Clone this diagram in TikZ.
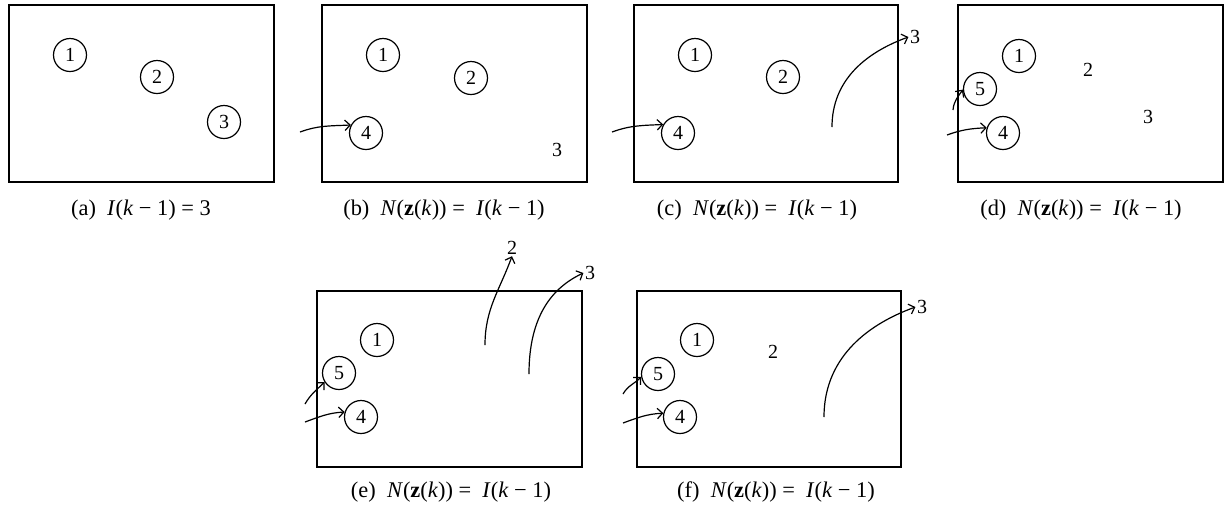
\documentclass[tikz,border=0pt]{standalone}
\usepackage{fontspec}
\setmainfont{Liberation Serif}
\usetikzlibrary{arrows.meta}
\begin{document}
\begin{tikzpicture}[x=0.5pt,y=-0.5pt,
  frame/.style={draw, line width=0.6pt},
  obj/.style={circle, draw, line width=0.6pt, minimum size=16.5pt, inner sep=0pt, font=\fontsize{10}{12}\selectfont},
  lbl/.style={inner sep=0.6pt, font=\fontsize{10}{12}\selectfont},
  mv/.style={line width=0.6pt, -{Straight Barb[length=2.6pt,width=5.2pt]}},
  captext/.style={inner sep=0pt, font=\fontsize{11.2}{13}\selectfont}]
\useasboundingbox (0,0) rectangle (1228,510);
\newcommand{\capN}[1]{(#1)\enspace\textit{N}(\textbf{z}(\textit{k})) =\enspace\textit{I}(\textit{k} − 1)}
% ---------- (a)
\draw[frame] (9,5) rectangle (274,182);
\node[obj] (a1) at (70,55) {1};
\node[obj] (a2) at (157,77) {2};
\node[obj] (a3) at (224,122) {3};
\node[captext] (acap) at (141,210) {(a)\enspace\textit{I}(\textit{k} − 1) = 3};
% ---------- (b)
\draw[frame] (322,5) rectangle (587,182);
\node[obj] (b1) at (383,55) {1};
\node[obj] (b2) at (471,78) {2};
\node[obj] (b4) at (366,133) {4};
\node[lbl] (b3) at (557,150) {3};
\coordinate (bs4) at (300,132);
\draw[mv] (bs4) to[out=20,in=183] (b4.152);
\node[captext] (bcap) at (444,210) {\capN{b}};
% ---------- (c)
\draw[frame] (634,5) rectangle (898,182);
\node[obj] (c1) at (695,55) {1};
\node[obj] (c2) at (783,77) {2};
\node[obj] (c4) at (678,133) {4};
\node[lbl] (c3) at (915,37) {3};
\coordinate (cs4) at (612,132);
\coordinate (cs3) at (832,127);
\draw[mv] (cs4) to[out=20,in=183] (c4.150);
\draw[mv] (cs3) to[out=90,in=200] (c3.west);
\node[captext] (ccap) at (757,210) {\capN{c}};
% ---------- (d)
\draw[frame] (958,5) rectangle (1223,182);
\node[obj] (d1) at (1019,56) {1};
\node[obj] (d5) at (980,89) {5};
\node[obj] (d4) at (1003,133) {4};
\node[lbl] (d2) at (1088,70) {2};
\node[lbl] (d3) at (1148,117) {3};
\coordinate (ds5) at (953,110);
\coordinate (ds4) at (947,135);
\draw[mv] (ds5) to[out=85,in=235] (d5.182);
\draw[mv] (ds4) to[out=20,in=183] (d4.162);
\node[captext] (dcap) at (1081,210) {\capN{d}};
% ---------- (e)
\draw[frame] (317,291) rectangle (582,467);
\node[obj] (e1) at (377,340) {1};
\node[obj] (e5) at (339,373) {5};
\node[obj] (e4) at (361,417) {4};
\node[lbl] (e2) at (512,248) {2};
\node[lbl] (e3) at (590,273) {3};
\coordinate (es5) at (305,404);
\coordinate (es4) at (305,422);
\coordinate (es2) at (485,345);
\coordinate (es3) at (529,374);
\draw[mv] (es5) to[out=60,in=225] (e5.212);
\draw[mv] (es4) to[out=20,in=183] (e4.163);
\draw[mv] (es2) to[out=90,in=250] (e2.south);
\draw[mv] (es3) to[out=90,in=205] (e3.west);
\node[captext] (ecap) at (451,492) {\capN{e}};
% ---------- (f)
\draw[frame] (637,291) rectangle (901,467);
\node[obj] (f1) at (697,340) {1};
\node[obj] (f5) at (658,374) {5};
\node[obj] (f4) at (680,417) {4};
\node[lbl] (f2) at (773,352) {2};
\node[lbl] (f3) at (922,307) {3};
\coordinate (fs5) at (623,394);
\coordinate (fs4) at (623,423);
\coordinate (fs3) at (824,417);
\draw[mv] (fs5) to[out=60,in=225] (f5.190);
\draw[mv] (fs4) to[out=20,in=183] (f4.167);
\draw[mv] (fs3) to[out=90,in=200] (f3.west);
\node[captext] (fcap) at (776,492) {\capN{f}};
\end{tikzpicture}
\end{document}
